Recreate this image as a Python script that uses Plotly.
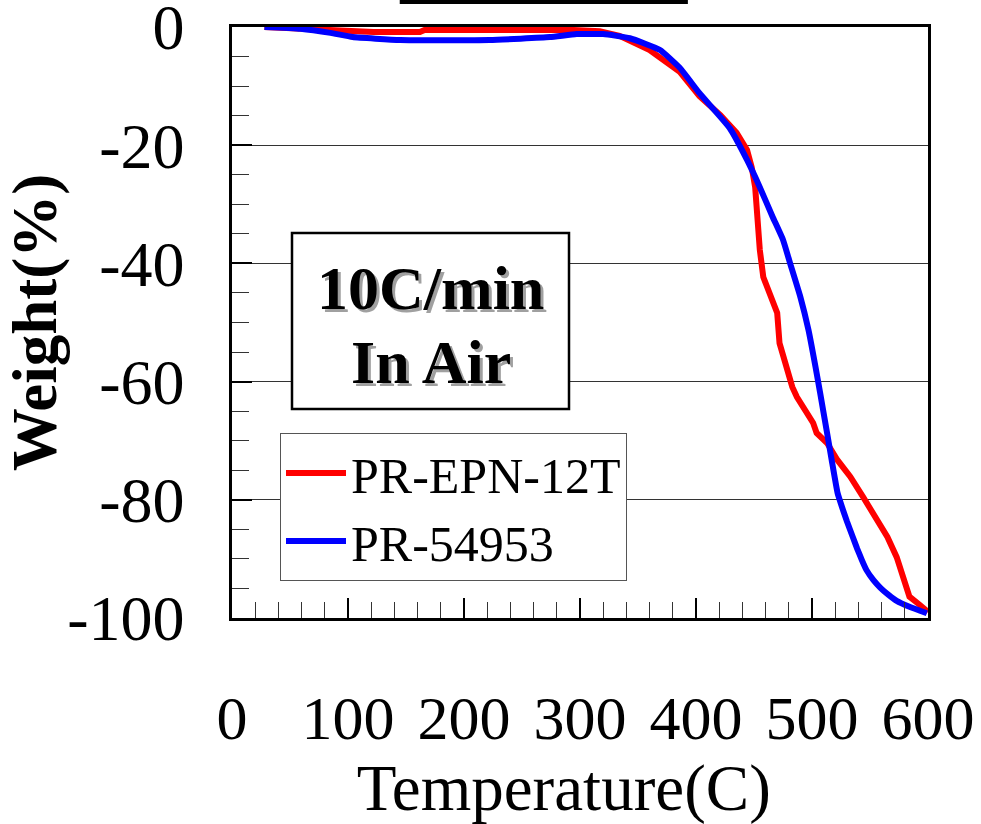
import plotly.graph_objects as go

# ---- data ----
temp_red = [28, 59, 93, 122, 162, 166, 294, 317, 334, 360, 386, 403, 421, 435, 444, 448, 451,
            453, 455, 458, 464, 470, 472, 478, 483, 487, 494, 501, 504, 513, 522, 533, 544,
            556, 565, 573, 578, 584, 593, 600]
wt_red = [0, -0.2, -0.5, -0.85, -0.85, -0.5, -0.5, -0.7, -1.5, -3.9, -7.6, -11.7, -14.9, -17.9,
          -20.8, -23.7, -27.1, -33.8, -37.7, -42.3, -45.7, -48.4, -53.5, -57.5, -60.9, -62.6,
          -64.8, -67.0, -68.7, -70.4, -73.3, -76.1, -79.5, -83.4, -86.3, -89.7, -93.0, -96.4,
          -97.8, -99.0]

temp_blue = [28, 59, 85, 104, 145, 222, 274, 297, 320, 343, 369, 386, 403, 429, 444, 455, 466,
             475, 481, 490, 497, 503, 507, 513, 517, 522, 526, 530, 535, 539, 543, 547, 553,
             559, 566, 573, 584, 599]
wt_blue = [0, -0.3, -1.0, -1.7, -2.2, -2.2, -1.7, -1.2, -1.2, -1.9, -3.9, -6.9, -11.2, -17.1,
           -22.5, -27.1, -32.1, -36.0, -39.9, -45.7, -51.3, -57.5, -61.9, -68.7, -73.3, -78.8,
           -81.3, -83.6, -86.2, -88.3, -90.2, -91.9, -93.6, -94.9, -96.1, -97.1, -98.1, -99.2]

names = ["PR-EPN-12T", "PR-54953"]
colors = ["#ff0000", "#0000ff"]
x_ticks = [0, 100, 200, 300, 400, 500, 600]
y_ticks = [0, -20, -40, -60, -80, -100]
box_lines = ["10C/min", "In Air"]

FONT = "Liberation Serif, Times New Roman, serif"

fig = go.Figure()
fig.add_trace(go.Scatter(x=temp_red, y=wt_red, mode="lines", name=names[0],
                         line=dict(color=colors[0], width=6)))
fig.add_trace(go.Scatter(x=temp_blue, y=wt_blue, mode="lines", name=names[1],
                         line=dict(color=colors[1], width=6, shape="spline", smoothing=0.4)))

fig.update_layout(
    width=981, height=824,
    margin=dict(l=232, r=53, t=27, b=206, autoexpand=False),
    paper_bgcolor="white", plot_bgcolor="white",
    font=dict(family=FONT, color="black", size=60),
    showlegend=True,
    legend=dict(x=(280 - 232) / 696, y=(618 - 433) / 591, xanchor="left", yanchor="top",
                bgcolor="white", bordercolor="#555555", borderwidth=1,
                font=dict(family=FONT, size=50, color="black"),
                itemwidth=60, tracegroupgap=0),
)

fig.update_xaxes(
    range=[0, 600], tickmode="array", tickvals=x_ticks, ticktext=[str(v) for v in x_ticks],
    ticks="inside", ticklen=20, tickwidth=1.5, tickcolor="black",
    minor=dict(dtick=20, ticks="inside", ticklen=16, tickwidth=1.2, tickcolor="#333333",
               showgrid=False),
    showgrid=False, zeroline=False, automargin=False,
    showline=True, linecolor="black", linewidth=2.5, mirror=True,
    tickfont=dict(family=FONT, size=62), ticklabelstandoff=44, ticklabeloverflow="allow",
    title=dict(text="Temperature(C)&nbsp;&nbsp;", font=dict(family=FONT, size=65), standoff=8),
)
fig.update_yaxes(
    range=[-100, 0], tickmode="array", tickvals=y_ticks, ticktext=[str(v) for v in y_ticks],
    ticks="inside", ticklen=20, tickwidth=1.5, tickcolor="black",
    minor=dict(dtick=5, ticks="inside", ticklen=17, tickwidth=1.2, tickcolor="#333333",
               showgrid=False),
    showgrid=True, gridcolor="#333333", gridwidth=1, zeroline=False, automargin=False,
    showline=True, linecolor="black", linewidth=2.5, mirror=True,
    tickfont=dict(family=FONT, size=64), ticklabelstandoff=32, ticklabeloverflow="allow",
    title=dict(text="<b>Weight(%)</b>", font=dict(family=FONT, size=63), standoff=0),
)

# cropped bar at very top of picture
fig.add_shape(type="rect", xref="paper", yref="paper", x0=0.241, x1=0.655, y0=1.0389, y1=1.05,
              fillcolor="black", line=dict(width=0), layer="above")

# condition box
fig.add_shape(type="rect", xref="paper", yref="paper",
              x0=(292 - 232) / 696, x1=(569 - 232) / 696,
              y0=(618 - 409) / 591, y1=(618 - 233) / 591,
              fillcolor="white", line=dict(color="black", width=2.5), layer="above")
cx = ((292 + 569) / 2 - 232) / 696
for txt, py in zip(box_lines, [288, 362]):
    cy = (618 - py) / 591
    fig.add_annotation(x=cx, y=cy, xref="paper", yref="paper", text=f"<b>{txt}</b>",
                       showarrow=False, xanchor="center", yanchor="middle",
                       font=dict(family=FONT, size=62, color="#a0a0a0"), xshift=3, yshift=-3)
    fig.add_annotation(x=cx, y=cy, xref="paper", yref="paper", text=f"<b>{txt}</b>",
                       showarrow=False, xanchor="center", yanchor="middle",
                       font=dict(family=FONT, size=62, color="black"))

fig.write_html("out.html")
